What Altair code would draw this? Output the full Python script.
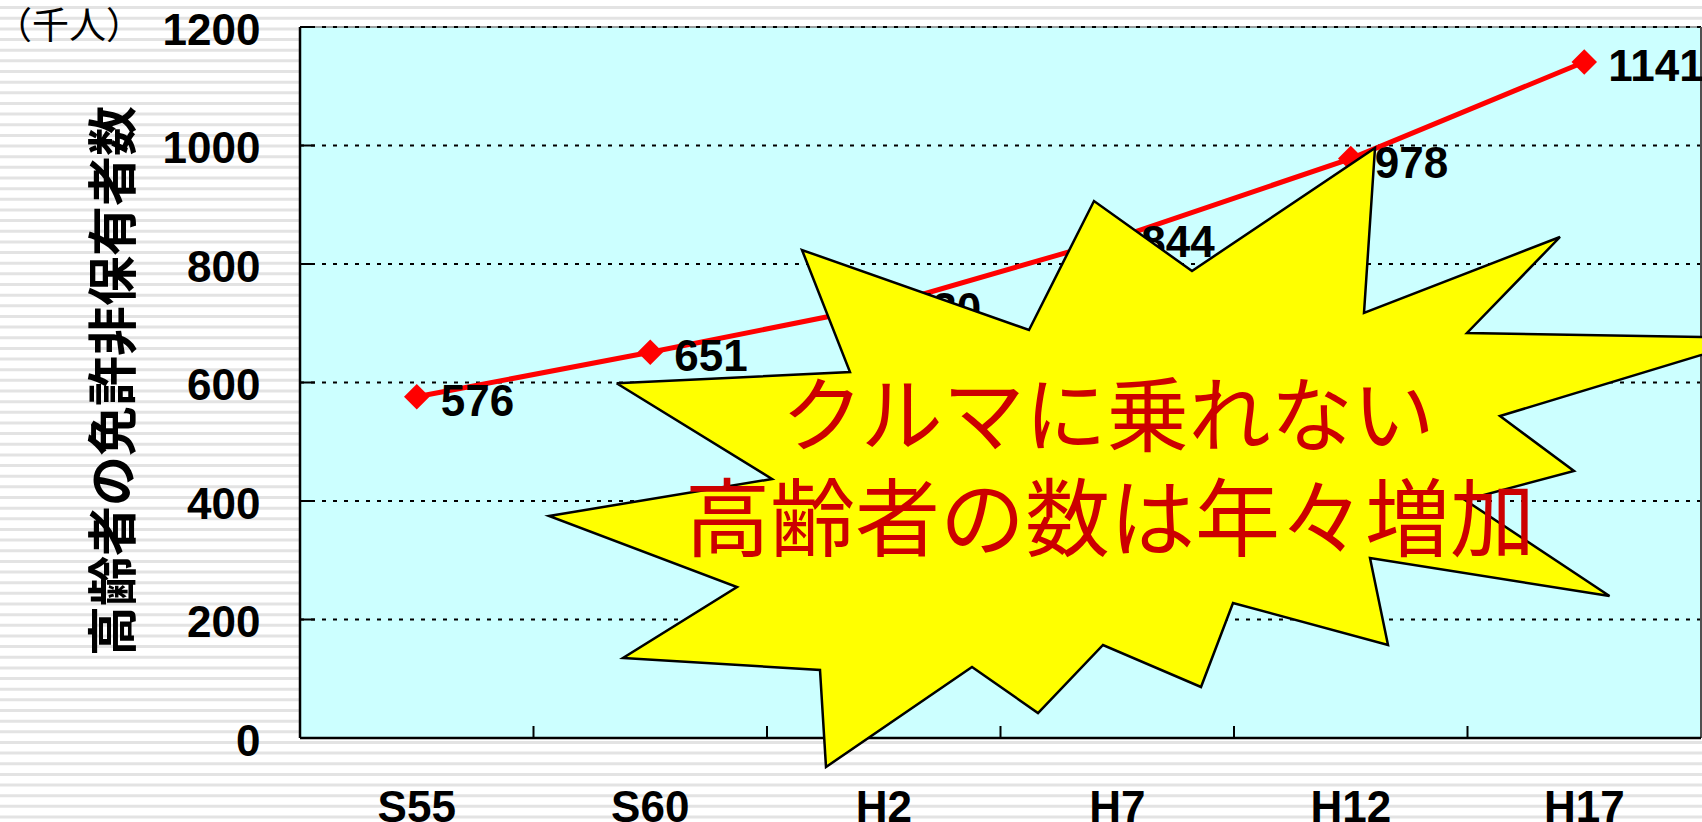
import altair as alt
import pandas as pd
import numpy as np

# ---- data ----
years = ["S55", "S60", "H2", "H7", "H12", "H17"]
counts = [576, 651, 730, 844, 978, 1141]
y_ticks = [0, 200, 400, 600, 800, 1000, 1200]
grid_vals = [200, 400, 600, 800, 1000, 1200]
y_title = "高齢者の免許非保有者数"
unit_label = "（千人）"
burst_lines = ["クルマに乗れない", "高齢者の数は年々増加"]

# starburst callout outline (pixel position inside the plot area)
burst_x = [316.6, 550, 502, 729, 794, 892, 1075, 1064, 1260, 1167, 1457, 1200, 1274, 1165,
           1309.5, 1070, 1088, 933, 901, 803, 738, 672, 526, 520, 323, 437, 249, 472, 316.6]
burst_y = [356.2, 345, 223, 303, 174, 244, 121, 286, 210, 306, 311, 389, 444, 473,
           569, 531, 618, 576, 660, 618, 686, 640, 740, 643, 631, 560, 489, 452, 356.2]

W, H = 1401, 711

df = pd.DataFrame({"year": years, "count": counts})
grid_df = pd.DataFrame({"g": grid_vals})
tick_df = pd.DataFrame({"year": years[1:]})
burst_df = pd.DataFrame({"px": burst_x, "py": burst_y, "i": list(range(len(burst_x)))})
stripe_df = pd.DataFrame({"sy": np.arange(7.6, 830, 10.65) - 27})
one = alt.Data(values=[{"a": 1}])

num_font = "Liberation Sans"
jp_font = "Noto Sans CJK JP"

xscale = alt.Scale(type="band", domain=years, paddingInner=0, paddingOuter=0)
yscale = alt.Scale(domain=[0, 1200], nice=False, zero=True)

X = alt.X("year:N", sort=years, scale=xscale, axis=None)
Y = alt.Y("count:Q", scale=yscale, axis=None)

stripes = alt.Chart(stripe_df).mark_rule(color="#e3e3e3", strokeWidth=3).encode(
    y=alt.Y("sy:Q", scale=None), x=alt.value(-300), x2=alt.value(1402)
)

plot_bg = alt.Chart(one).mark_rect(fill="#CCFFFF").encode(
    x=alt.value(0), x2=alt.value(W), y=alt.value(0), y2=alt.value(H)
)

top_border = alt.Chart(one).mark_rule(color="#7f7f7f", strokeWidth=1.5).encode(
    x=alt.value(0), x2=alt.value(W), y=alt.value(0)
)
right_border = alt.Chart(one).mark_rule(color="#505050", strokeWidth=2).encode(
    x=alt.value(W), y=alt.value(0), y2=alt.value(H)
)

grid = alt.Chart(grid_df).mark_rule(color="black", strokeWidth=2, strokeDash=[4, 7]).encode(
    y=alt.Y("g:Q", scale=yscale, axis=None), x=alt.value(0), x2=alt.value(W)
)

left_axis = alt.Chart(one).mark_rule(color="black", strokeWidth=2.5).encode(
    x=alt.value(0), y=alt.value(0), y2=alt.value(H)
)
bottom_axis = alt.Chart(one).mark_rule(color="black", strokeWidth=2.5).encode(
    x=alt.value(0), x2=alt.value(W), y=alt.value(H)
)

yticks = alt.Chart(grid_df).mark_rule(color="black", strokeWidth=2).encode(
    y=alt.Y("g:Q", scale=yscale, axis=None), x=alt.value(0), x2=alt.value(15)
)
xticks = alt.Chart(tick_df).mark_rule(color="black", strokeWidth=2).encode(
    x=alt.X("year:N", sort=years, scale=xscale, axis=None, bandPosition=0),
    y=alt.value(H), y2=alt.value(H - 12)
)

line = alt.Chart(df).mark_line(color="#FF0000", strokeWidth=5).encode(
    x=alt.X("year:N", sort=years, scale=xscale, title=None,
            axis=alt.Axis(labelFont=num_font, labelFontSize=44, labelFontWeight="bold",
                          labelColor="black", labelPadding=48, ticks=False, tickSize=0,
                          domain=False, grid=False, labelAngle=0, zindex=1)),
    y=alt.Y("count:Q", scale=yscale, title=None,
            axis=alt.Axis(values=y_ticks, format="d", labelFont=num_font, labelFontSize=44,
                          labelFontWeight="bold", labelColor="black", labelPadding=40,
                          labelOffset=4, ticks=False, tickSize=0, domain=False,
                          grid=False, zindex=1)),
)

points = alt.Chart(df).mark_point(shape="diamond", filled=True, size=650, color="#FF0000",
                                  opacity=1).encode(x=X, y=Y)

labels = alt.Chart(df).mark_text(align="left", baseline="middle", dx=24, dy=6, font=num_font,
                                 fontSize=44, fontWeight="bold", color="black").encode(
    x=X, y=Y, text=alt.Text("count:Q")
)

burst = alt.Chart(burst_df).mark_line(fill="#FFFF00", stroke="black", strokeWidth=2.5,
                                      strokeJoin="miter").encode(
    x=alt.X("px:Q", scale=None), y=alt.Y("py:Q", scale=None), order=alt.Order("i:Q")
)

burst_t1 = alt.Chart(one).mark_text(align="center", baseline="middle", font=jp_font,
                                    fontSize=82, color="#CC0000").encode(
    x=alt.value(808), y=alt.value(393), text=alt.value(burst_lines[0])
)
burst_t2 = alt.Chart(one).mark_text(align="center", baseline="middle", font=jp_font,
                                    fontSize=85, color="#CC0000").encode(
    x=alt.value(810), y=alt.value(497), text=alt.value(burst_lines[1])
)

title_t = alt.Chart(one).mark_text(align="center", baseline="middle", font=jp_font,
                                   fontSize=50, fontWeight="bold", color="black",
                                   angle=270).encode(
    x=alt.value(-184), y=alt.value(354), text=alt.value(y_title)
)
unit_t = alt.Chart(one).mark_text(align="left", baseline="middle", font=jp_font,
                                  fontSize=37, color="black").encode(
    x=alt.value(-305), y=alt.value(1), text=alt.value(unit_label)
)

chart = alt.layer(
    stripes, plot_bg, top_border, grid, right_border, left_axis, bottom_axis,
    yticks, xticks, line, points, labels, burst, burst_t1, burst_t2, title_t, unit_t
).resolve_scale(x="independent", y="independent").properties(
    width=W, height=H,
    padding={"left": 300, "top": 27, "right": 1, "bottom": 84},
    autosize=alt.AutoSizeParams(type="none"),
    background="white",
).configure_view(stroke=None)

chart.save("out.html", embed_options={"renderer": "svg", "actions": False})
